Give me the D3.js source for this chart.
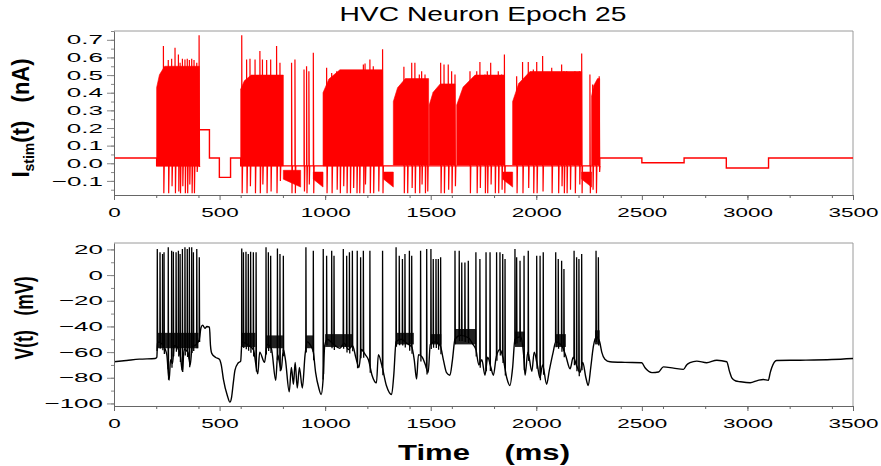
<!DOCTYPE html>
<html>
<head>
<meta charset="utf-8">
<script src="https://cdn.jsdelivr.net/npm/d3@7"></script>
<style>
  body { margin: 0; background: #fff; }
  text { font-family: "Liberation Sans", Arial, sans-serif; }
</style>
</head>
<body>
<svg width="881" height="466"></svg>
<script>
// ---- data ----
const xTicks = [0, 500, 1000, 1500, 2000, 2500, 3000, 3500];
const stimTicks = [-0.1, 0.0, 0.1, 0.2, 0.3, 0.4, 0.5, 0.6, 0.7];
const vTicks = [-100, -80, -60, -40, -20, 0, 20];

// stimulus holding levels: [start ms, end ms, nA]
const stimSteps = [
  [0, 202, 0.03], [202, 404, -0.015], [404, 452, 0.19], [452, 499, 0.03],
  [499, 552, -0.08], [552, 600, 0.03], [600, 2300, -0.015], [2300, 2500, 0.03],
  [2500, 2700, 0.003], [2700, 2900, 0.03], [2900, 3100, -0.027], [3100, 3500, 0.03]
];

// dense oscillation blocks: [start, knee, end, low, top at start, top after knee]
const stimBands = [
  [202, 240, 404, -0.015, 0.43, 0.55],
  [600, 650, 802, -0.015, 0.42, 0.50],
  [990, 1070, 1272, -0.015, 0.40, 0.53],
  [1323, 1380, 1490, -0.01, 0.35, 0.48],
  [1493, 1545, 1615, -0.01, 0.33, 0.45],
  [1623, 1710, 1849, -0.01, 0.33, 0.50],
  [1888, 1970, 2215, -0.01, 0.35, 0.52],
  [2262, 2290, 2300, -0.01, 0.38, 0.48]
];

// negative oscillation wedges: [start, end, top, bottom at start, bottom at end]
const stimLows = [
  [802, 884, -0.04, -0.09, -0.135],
  [944, 990, -0.05, -0.09, -0.135],
  [1277, 1323, -0.05, -0.09, -0.135],
  [1841, 1888, -0.05, -0.09, -0.135],
  [2215, 2262, -0.05, -0.09, -0.135]
];

// stimulus spikes: [ms, peak nA, trough nA]
const stimSpikes = [
  [234, 0.665, -0.17], [257, 0.585, -0.17], [273, 0.593, -0.13], [289, 0.655, -0.17],
  [305, 0.617, -0.16], [313, 0.57, -0.17], [324, 0.593, -0.13], [336, 0.589, -0.17],
  [347, 0.593, -0.17], [357, 0.585, -0.12], [368, 0.593, -0.17], [379, 0.585, -0.17],
  [392, 0.57, -0.05], [403, 0.726, -0.02],
  [605, 0.726, -0.17], [628, 0.589, -0.17], [644, 0.593, -0.13], [668, 0.589, -0.17],
  [691, 0.636, -0.17], [703, 0.589, -0.12], [723, 0.585, -0.17], [742, 0.589, -0.16],
  [770, 0.665, -0.17], [786, 0.57, -0.1],
  [841, 0.57, -0.17], [857, 0.589, -0.17], [900, 0.531, -0.16], [912, 0.55, -0.17],
  [923, 0.522, -0.12], [944, 0.627, -0.17],
  [1007, 0.541, -0.17], [1031, 0.512, -0.17], [1055, 0.522, -0.15], [1070, 0.512, -0.17],
  [1086, 0.493, -0.13], [1102, 0.512, -0.17], [1118, 0.512, -0.17], [1133, 0.503, -0.14],
  [1149, 0.512, -0.17], [1162, 0.512, -0.17], [1181, 0.56, -0.17], [1189, 0.566, -0.12],
  [1212, 0.589, -0.17], [1228, 0.55, -0.17], [1252, 0.522, -0.16], [1272, 0.646, -0.17],
  [1373, 0.547, -0.17], [1389, 0.474, -0.17], [1410, 0.57, -0.14], [1425, 0.57, -0.17],
  [1446, 0.503, -0.17], [1457, 0.522, -0.12], [1473, 0.503, -0.17], [1484, 0.446, -0.16],
  [1547, 0.57, -0.17], [1563, 0.56, -0.17], [1583, 0.56, -0.15], [1599, 0.522, -0.17],
  [1615, 0.503, -0.13],
  [1686, 0.522, -0.17], [1718, 0.522, -0.17], [1733, 0.574, -0.14], [1757, 0.503, -0.17],
  [1768, 0.522, -0.17], [1784, 0.57, -0.12], [1804, 0.474, -0.17], [1820, 0.522, -0.17],
  [1836, 0.503, -0.15], [1849, 0.617, -0.17],
  [1907, 0.493, -0.17], [1935, 0.574, -0.17], [1962, 0.574, -0.14], [1986, 0.531, -0.17],
  [2002, 0.574, -0.17], [2030, 0.608, -0.16], [2073, 0.541, -0.17], [2104, 0.493, -0.17],
  [2120, 0.56, -0.13], [2131, 0.522, -0.17], [2144, 0.522, -0.17], [2160, 0.493, -0.15],
  [2183, 0.522, -0.17], [2204, 0.522, -0.12], [2215, 0.623, -0.17],
  [2254, 0.503, -0.17], [2267, 0.446, -0.15], [2283, 0.455, -0.17], [2298, 0.493, -0.05]
];

// membrane voltage between spikes: [ms, mV]
const vTrace = [
  [0, -67.5], [60, -66.5], [120, -65.5], [195, -65], [203, -64],
  [206, -52], [230, -54], [250, -62], [261, -82], [268, -66], [277, -69], [285, -55],
  [300, -56], [315, -64], [324, -75], [332, -58], [350, -60], [361, -70], [370, -56],
  [390, -54], [404, -50], [412, -41], [420, -39], [431, -41.5], [440, -40], [452, -40.5],
  [457, -55], [463, -61], [480, -64], [499, -65.5], [508, -70], [518, -81], [537, -94],
  [549, -99], [557, -95], [565, -84], [573, -74], [588, -68.5], [600, -67],
  [606, -52], [630, -54], [660, -58], [681, -77], [690, -60], [713, -68], [725, -54],
  [745, -57], [766, -82], [775, -62], [792, -74], [802, -58], [812, -66], [830, -91],
  [840, -72], [850, -85], [858, -68], [868, -88], [878, -72], [892, -88], [905, -62],
  [915, -52], [935, -56], [944, -60], [955, -76], [970, -88], [981, -93], [990, -82],
  [998, -55], [1010, -50], [1040, -54], [1070, -57], [1090, -53], [1110, -58], [1130, -55],
  [1145, -64], [1160, -72], [1172, -58], [1190, -62], [1205, -66], [1222, -78], [1243, -84],
  [1252, -62], [1268, -70], [1290, -86], [1315, -93], [1325, -78], [1336, -52],
  [1360, -50], [1385, -53], [1410, -56], [1422, -66], [1433, -81], [1442, -62], [1460, -64],
  [1475, -70], [1488, -76], [1498, -54], [1520, -52], [1545, -55], [1560, -66], [1575, -76],
  [1591, -78], [1603, -66], [1615, -50], [1640, -47], [1680, -49], [1700, -54], [1714, -58],
  [1728, -70], [1742, -66], [1757, -78], [1770, -64], [1785, -72], [1797, -78], [1810, -64],
  [1828, -58], [1842, -64], [1860, -80], [1875, -86], [1888, -72], [1899, -50], [1925, -48],
  [1940, -62], [1947, -78], [1960, -60], [1979, -75], [1990, -60], [2005, -70], [2017, -80],
  [2030, -70], [2049, -85], [2062, -74], [2080, -60], [2092, -52], [2120, -55], [2140, -63],
  [2160, -73], [2175, -64], [2190, -70], [2207, -76], [2220, -68], [2235, -80], [2246, -86],
  [2258, -72], [2270, -56], [2285, -48], [2300, -52], [2310, -60], [2325, -65.5],
  [2349, -67.5], [2420, -68], [2499, -68.3], [2515, -72.2], [2548, -76], [2579, -75.5],
  [2602, -71.5], [2650, -72.5], [2697, -73.5], [2712, -70], [2728, -68.3], [2760, -67],
  [2807, -68.3], [2855, -66.3], [2902, -67.5], [2915, -75], [2926, -80], [2945, -82.5],
  [2966, -83.1], [3013, -83.9], [3050, -82], [3075, -81.3], [3099, -82], [3108, -76],
  [3115, -72.2], [3138, -66.5], [3250, -66.3], [3400, -65.8], [3500, -65]
];

// fast subthreshold jitter inside bursts: [start, end, low mV, high mV]
const vBands = [
  [205, 400, -57, -45], [605, 670, -56, -45], [720, 800, -57, -47], [909, 944, -57, -47],
  [1000, 1130, -56, -46], [1336, 1420, -54, -45], [1500, 1550, -54, -46],
  [1615, 1715, -54, -42], [1899, 1945, -56, -44], [2092, 2140, -56, -46], [2278, 2300, -54, -43]
];

// action potentials: [ms, peak mV]
const vSpikes = [
  [205, 20.3], [218, 17.7], [230, 16.4], [237, 17.7], [257, 21.6], [273, 19], [281, 18.2],
  [294, 17.7], [305, 19], [313, 16.4], [324, 20.3], [336, 21.6], [347, 20.3], [357, 21.6],
  [368, 21.6], [376, 17.7], [392, 20.3], [404, 13.8],
  [605, 20.8], [613, 17.7], [625, 18.2], [636, 16.4], [647, 18.2], [660, 17.7], [673, 17.7],
  [720, 21.6], [731, 17.7], [742, 15.1], [774, 20.8], [786, 16.4], [802, 15.1],
  [909, 21.6], [944, 19],
  [991, 20.3], [1007, 15.1], [1031, 19], [1042, 15.1], [1086, 20.3], [1102, 15.1],
  [1115, 17.7], [1129, 19], [1152, 19], [1168, 13.8], [1181, 19], [1212, 19], [1272, 19],
  [1336, 21.6], [1351, 15.1], [1366, 12.5], [1378, 16.4], [1399, 19], [1410, 15.1],
  [1452, 19], [1481, 20.3], [1501, 20.3], [1512, 12.5], [1525, 12.5], [1536, 12.5], [1547, 13.8],
  [1615, 19], [1635, 19], [1647, 9.9], [1662, 9.9], [1678, 11.2], [1714, 17.7], [1733, 12.5],
  [1762, 17.7], [1781, 17.7], [1812, 17.7], [1828, 17.7], [1841, 16.4], [1852, 12.5],
  [1899, 20.3], [1907, 13.8], [1923, 11.2], [1942, 15.1], [1962, 19], [2002, 15.1],
  [2018, 15.1], [2033, 17.7], [2092, 17.7], [2104, 12.5], [2120, 11.2], [2131, 4.7],
  [2179, 19], [2191, 13.8], [2202, 12.5], [2215, 16.4], [2283, 19], [2294, 13.8]
];

// ---- drawing ----
const svg = d3.select('svg');

const x = d3.scaleLinear().domain([0, 3500]).range([114, 853]);
const yI = d3.scaleLinear().domain([-0.18, 0.75]).range([195, 31]);
const yV = d3.scaleLinear().domain([-102, 25]).range([406, 243]);

svg.append('text')
    .attr('x', 483).attr('y', 21)
    .attr('text-anchor', 'middle')
    .attr('font-size', 21)
    .attr('textLength', 287).attr('lengthAdjust', 'spacingAndGlyphs')
    .text('HVC Neuron Epoch 25');

const panel = (y, id) => {
  const g = svg.append('g');
  g.append('clipPath').attr('id', id)
    .append('rect')
      .attr('x', x.range()[0]).attr('y', y.range()[1])
      .attr('width', x.range()[1] - x.range()[0])
      .attr('height', y.range()[0] - y.range()[1]);
  // frame
  g.append('path')
    .attr('d', `M${x.range()[0]},${y.range()[1]}H${x.range()[1]}V${y.range()[0]}`)
    .attr('fill', 'none').attr('stroke', '#9a9a9a');
  return g;
};

const xAxis = (g, y) => {
  const base = y.range()[0];
  g.append('g').attr('transform', `translate(0,${base})`)
    .call(d3.axisBottom(x).tickValues(x.ticks(14)).tickSize(3).tickSizeOuter(0).tickFormat(''))
    .call(a => a.select('.domain').remove())
    .selectAll('line').attr('stroke', '#666');
  const ax = g.append('g').attr('transform', `translate(0,${base})`)
    .call(d3.axisBottom(x).tickValues(xTicks).tickSize(5).tickSizeOuter(0).tickFormat(d3.format('d')));
  ax.select('.domain').attr('stroke', '#666');
  ax.selectAll('line').attr('stroke', '#666');
  ax.selectAll('text')
    .attr('font-size', 12.5).attr('font-family', '"Liberation Sans", Arial, sans-serif')
    .attr('fill', '#000')
    .attr('y', 22).attr('dy', 0)
    .attr('transform', 'scale(1.8,1)');
};

const yAxis = (g, y, ticks, minor, fmt) => {
  g.append('g').attr('transform', `translate(${x.range()[0]},0)`)
    .call(d3.axisLeft(y).tickValues(minor).tickSize(3).tickSizeOuter(0).tickFormat(''))
    .call(a => a.select('.domain').remove())
    .selectAll('line').attr('stroke', '#888');
  const ax = g.append('g').attr('transform', `translate(${x.range()[0]},0)`)
    .call(d3.axisLeft(y).tickValues(ticks).tickSize(7).tickSizeOuter(0).tickFormat(fmt));
  ax.select('.domain').attr('stroke', '#666');
  ax.selectAll('line').attr('stroke', '#888');
  ax.selectAll('text')
    .attr('font-size', 13).attr('font-family', '"Liberation Sans", Arial, sans-serif')
    .attr('fill', '#000')
    .attr('x', -5.5)
    .attr('transform', 'scale(2,1)');
};

// top panel: stimulus current
const gI = panel(yI, 'clipI');
const plotI = gI.append('g').attr('clip-path', 'url(#clipI)');
const lineI = d3.line().x(d => x(d[0])).y(d => yI(d[1]));
const areaI = d3.area().x(d => x(d[0])).y0(d => yI(d[1])).y1(d => yI(d[2]));
const stimLevel = t => (stimSteps.find(s => t >= s[0] && t <= s[1]) || [0, 0, 0])[2];

plotI.selectAll('path.band').data(stimBands).enter().append('path')
    .attr('class', 'band')
    .attr('d', ([t0, tk, t1, lo, h0, h1]) =>
      areaI([[t0, lo, h0], [t0 + (tk - t0) * 0.35, lo, h0 + (h1 - h0) * 0.6], [tk, lo, h1], [t1, lo, h1]]))
    .attr('fill', '#ff0000').attr('stroke', '#ff0000').attr('stroke-width', 0.6);

plotI.selectAll('path.low').data(stimLows).enter().append('path')
    .attr('class', 'low')
    .attr('d', ([t0, t1, top, b0, b1]) => areaI([[t0, b0, top], [t1, b1, top]]))
    .attr('fill', '#ff0000').attr('stroke', '#ff0000').attr('stroke-width', 0.6);

plotI.append('path')
    .attr('d', lineI(stimSteps.flatMap(([t0, t1, v]) => [[t0, v], [t1, v]])))
    .attr('fill', 'none').attr('stroke', '#ff0000').attr('stroke-width', 1.4);

plotI.selectAll('path.spike').data(stimSpikes).enter().append('path')
    .attr('class', 'spike')
    .attr('d', ([t, pk, tr]) => {
      const b = stimLevel(t);
      return lineI([[t, b], [t, pk], [t + 2, tr], [t + 4, b]]);
    })
    .attr('fill', 'none').attr('stroke', '#ff0000').attr('stroke-width', 1.2);

yAxis(gI, yI, stimTicks, d3.range(-0.15, 0.751, 0.05), d3.format('.1f'));
xAxis(gI, yI);

// bottom panel: membrane voltage
const gV = panel(yV, 'clipV');
const plotV = gV.append('g').attr('clip-path', 'url(#clipV)');
const lineV = d3.line().x(d => x(d[0])).y(d => yV(d[1])).curve(d3.curveMonotoneX);
const vAt = t => {
  const i = Math.max(1, d3.bisector(d => d[0]).left(vTrace, t));
  const a = vTrace[i - 1], b = vTrace[i] || a;
  const f = b[0] === a[0] ? 0 : (t - a[0]) / (b[0] - a[0]);
  return a[1] + f * (b[1] - a[1]);
};

plotV.selectAll('rect.band').data(vBands).enter().append('rect')
    .attr('class', 'band')
    .attr('x', d => x(d[0])).attr('width', d => x(d[1]) - x(d[0]))
    .attr('y', d => yV(d[3])).attr('height', d => yV(d[2]) - yV(d[3]))
    .attr('fill', '#222');

plotV.append('path')
    .attr('d', lineV(vTrace))
    .attr('fill', 'none').attr('stroke', '#000').attr('stroke-width', 1.4);

plotV.selectAll('path.spike').data(vSpikes).enter().append('path')
    .attr('class', 'spike')
    .attr('d', ([t, pk]) => d3.line()([[x(t - 0.8), yV(vAt(t - 0.8))], [x(t), yV(pk)], [x(t + 1.6), yV(vAt(t + 1.6) - 4)]]))
    .attr('fill', 'none').attr('stroke', '#000').attr('stroke-width', 1.3);

yAxis(gV, yV, vTicks, d3.range(-100, 21, 10), d3.format('d'));
xAxis(gV, yV);

// axis titles
const yl1 = svg.append('text')
    .attr('transform', 'translate(29,118) scale(1.05,1) rotate(-90)')
    .attr('text-anchor', 'middle')
    .attr('font-size', 22).attr('font-weight', 'bold')
    .style('white-space', 'pre');
yl1.append('tspan').text('I');
yl1.append('tspan').attr('font-size', 14).attr('dy', 5).text('stim');
yl1.append('tspan').attr('dy', -5).text('(t)   (nA)');

svg.append('text')
    .attr('transform', 'translate(33,318) scale(1.5,1) rotate(-90)')
    .attr('text-anchor', 'middle')
    .attr('font-size', 17.6).attr('font-weight', 'bold')
    .style('white-space', 'pre')
    .text('V(t)   (mV)');

svg.append('text')
    .attr('x', 484).attr('y', 460)
    .attr('text-anchor', 'middle')
    .attr('font-size', 22).attr('font-weight', 'bold')
    .attr('textLength', 172).attr('lengthAdjust', 'spacingAndGlyphs')
    .style('white-space', 'pre')
    .text('Time    (ms)');
</script>
</body>
</html>
